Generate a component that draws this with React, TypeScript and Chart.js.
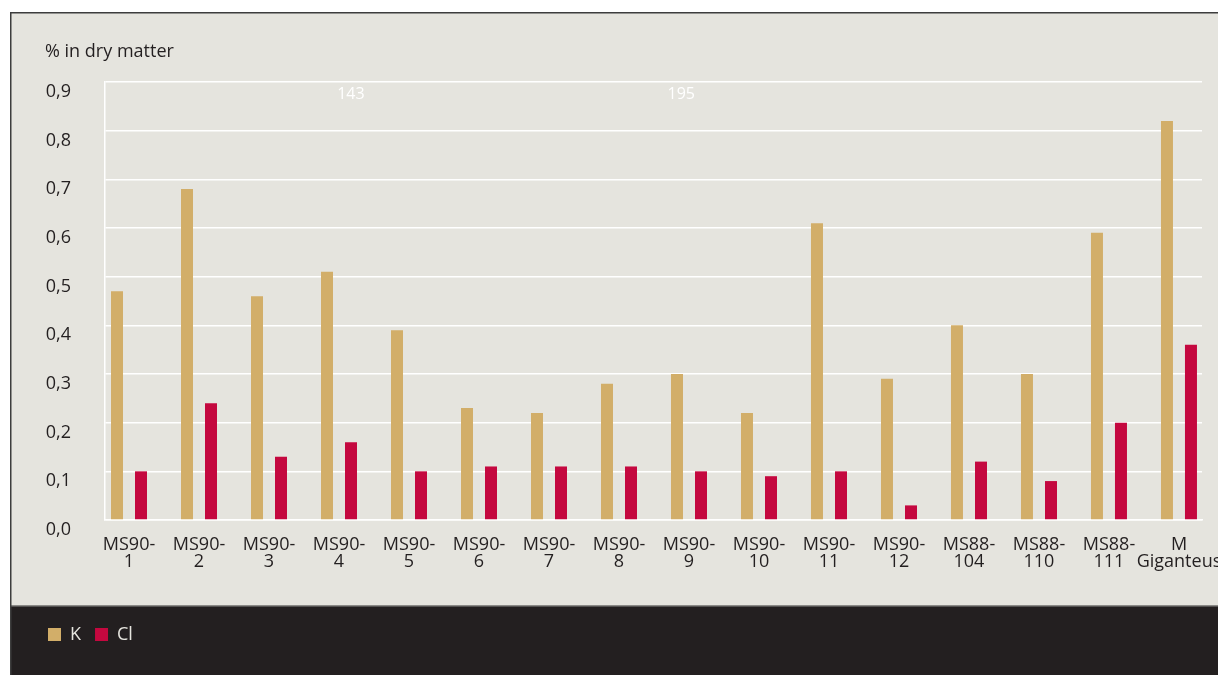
import React, { useEffect, useRef } from "react";
import { Chart, registerables } from "chart.js";

Chart.register(...registerables);

const categories: string[][] = [
  ["MS90-", "1"], ["MS90-", "2"], ["MS90-", "3"], ["MS90-", "4"],
  ["MS90-", "5"], ["MS90-", "6"], ["MS90-", "7"], ["MS90-", "8"],
  ["MS90-", "9"], ["MS90-", "10"], ["MS90-", "11"], ["MS90-", "12"],
  ["MS88-", "104"], ["MS88-", "110"], ["MS88-", "111"], ["M", "Giganteus"],
];

const kValues = [0.47, 0.68, 0.46, 0.51, 0.39, 0.23, 0.22, 0.28, 0.30, 0.22, 0.61, 0.29, 0.40, 0.30, 0.59, 0.82];
const clValues = [0.10, 0.24, 0.13, 0.16, 0.10, 0.11, 0.11, 0.11, 0.10, 0.09, 0.10, 0.03, 0.12, 0.08, 0.20, 0.36];

const yTickLabels = ["0,0", "0,1", "0,2", "0,3", "0,4", "0,5", "0,6", "0,7", "0,8", "0,9"];

const axisTitle = "% in dry matter";
const seriesNames = ["K", "Cl"];

const noteTexts = ["143", "195"];
const noteX = [3.17, 7.89];
const noteY = [0.875, 0.875];

const FONT = "'Open Sans', 'Noto Sans', sans-serif";
const TEXT = "#231f20";
const PANEL = "#e5e4de";
const DARK = "#231f20";

const framePlugin = {
  id: "frame",
  beforeDraw(chart: any) {
    const ctx = chart.ctx;
    const W = chart.width;
    const H = chart.height;
    ctx.save();
    ctx.fillStyle = "#ffffff";
    ctx.fillRect(0, 0, W, H);
    ctx.fillStyle = PANEL;
    ctx.fillRect(10, 12, W - 10, 594);
    ctx.fillStyle = DARK;
    ctx.fillRect(10, 606, W - 10, H - 606);
    ctx.fillStyle = "#8a8986";
    ctx.fillRect(10, 605, W - 10, 1.5);
    ctx.fillStyle = "#3d3d3d";
    ctx.fillRect(10, 12, W - 10, 1.5);
    ctx.fillRect(10, 12, 1.5, H - 12);
    ctx.restore();
  },
  afterDraw(chart: any) {
    const ctx = chart.ctx;
    ctx.save();
    ctx.fillStyle = TEXT;
    ctx.font = `18px ${FONT}`;
    ctx.textAlign = "left";
    ctx.textBaseline = "alphabetic";
    ctx.fillText(axisTitle, 45, 57);
    const xs = chart.scales.x;
    const ys = chart.scales.y;
    ctx.fillStyle = "#ffffff";
    ctx.font = `16px ${FONT}`;
    ctx.textAlign = "center";
    ctx.textBaseline = "middle";
    noteTexts.forEach((t, i) => {
      ctx.fillText(t, xs.getPixelForValue(noteX[i]), ys.getPixelForValue(noteY[i]));
    });
    ctx.restore();
  },
};

export default function App() {
  const ref = useRef<HTMLCanvasElement | null>(null);
  useEffect(() => {
    if (!ref.current) return;
    const chart = new Chart(ref.current, {
      type: "bar",
      data: {
        datasets: [
          {
            label: seriesNames[0],
            data: kValues.map((v, i) => ({ x: i, y: v })),
            backgroundColor: "#d2ae69",
            borderWidth: 0,
          },
          {
            label: seriesNames[1],
            data: clValues.map((v, i) => ({ x: i, y: v })),
            backgroundColor: "#c4083f",
            borderWidth: 0,
          },
        ],
      },
      options: {
        responsive: false,
        animation: false,
        categoryPercentage: 48 / 70,
        barPercentage: 0.5,
        layout: { padding: { left: 34, top: 82, right: 16, bottom: 21.5 } },
        plugins: {
          legend: {
            position: "bottom",
            align: "start",
            labels: {
              boxWidth: 13,
              boxHeight: 13,
              padding: 14,
              color: PANEL,
              font: { family: FONT, size: 18 },
            },
          },
          tooltip: { enabled: false },
          title: { display: false },
        },
        scales: {
          x: {
            type: "linear",
            offset: false,
            min: -0.343,
            max: 15.329,
            grid: { display: false, drawTicks: false, offset: false },
            border: { display: true, color: "#ffffff", width: 1.5 },
            afterBuildTicks: (scale: any) => {
              scale.ticks = categories.map((_, i) => ({ value: i }));
            },
            afterFit: (scale: any) => {
              scale.height = 91.5;
              scale.paddingLeft = 0;
              scale.paddingRight = 0;
            },
            ticks: {
              autoSkip: false,
              maxRotation: 0,
              padding: 16,
              color: TEXT,
              font: { family: FONT, size: 18, lineHeight: "17px" },
              callback: (value: any) => categories[Math.round(Number(value))] ?? "",
            },
          },
          y: {
            min: 0,
            max: 0.9,
            grid: { color: "#ffffff", lineWidth: 1.5, drawTicks: false },
            border: { display: true, color: "#ffffff", width: 1.5 },
            afterFit: (scale: any) => {
              scale.width = 71;
              scale.paddingTop = 0;
              scale.paddingBottom = 0;
            },
            ticks: {
              stepSize: 0.1,
              padding: 34,
              labelOffset: 10,
              color: TEXT,
              font: { family: FONT, size: 18 },
              callback: (_v: any, index: number) => yTickLabels[index] ?? "",
            },
          },
        },
      } as any,
      plugins: [framePlugin],
    });
    return () => chart.destroy();
  }, []);
  return (
    <div style={{ position: "fixed", left: 0, top: 0, width: 1218, height: 675 }}>
      <canvas ref={ref} width={1218} height={675} style={{ display: "block" }} />
    </div>
  );
}
